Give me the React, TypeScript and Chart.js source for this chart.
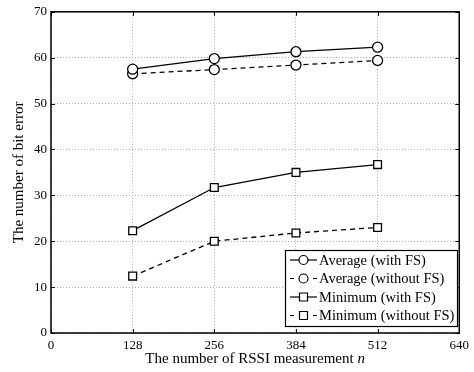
import React, { useEffect, useRef } from "react";
import { Chart, registerables } from "chart.js";

Chart.register(...registerables);

const xValues = [128, 256, 384, 512];
const avgWithFS = [57.5, 59.8, 61.3, 62.3];
const avgWithoutFS = [56.5, 57.4, 58.4, 59.4];
const minWithFS = [22.3, 31.7, 35.0, 36.7];
const minWithoutFS = [12.4, 20.0, 21.8, 23.0];
const xTicks = [0, 128, 256, 384, 512, 640];
const yTicks = [0, 10, 20, 30, 40, 50, 60, 70];
const seriesLabels = [
  "Average (with FS)",
  "Average (without FS)",
  "Minimum (with FS)",
  "Minimum (without FS)",
];

const FONT = "'Liberation Serif', 'DejaVu Serif', serif";

const toPts = (ys: number[]) => xValues.map((x, i) => ({ x, y: ys[i] }));

const decorPlugin = {
  id: "decor",
  afterDraw(chart: any) {
    const { ctx, chartArea: a, scales } = chart;
    const xs = scales.x;
    const ys = scales.y;
    ctx.save();
    // inward ticks
    ctx.strokeStyle = "#000";
    ctx.lineWidth = 1;
    ctx.beginPath();
    xTicks.forEach((t) => {
      const px = Math.round(xs.getPixelForValue(t)) + 0.5;
      ctx.moveTo(px, a.bottom);
      ctx.lineTo(px, a.bottom - 4);
      ctx.moveTo(px, a.top);
      ctx.lineTo(px, a.top + 4);
    });
    yTicks.forEach((t) => {
      const py = Math.round(ys.getPixelForValue(t)) + 0.5;
      ctx.moveTo(a.left, py);
      ctx.lineTo(a.left + 4, py);
      ctx.moveTo(a.right, py);
      ctx.lineTo(a.right - 4, py);
    });
    ctx.stroke();
    // box
    ctx.lineWidth = 1.5;
    ctx.strokeRect(a.left, a.top, a.right - a.left, a.bottom - a.top);

    // axis titles
    ctx.fillStyle = "#000";
    ctx.font = `15px ${FONT}`;
    ctx.textBaseline = "alphabetic";
    const t1 = "The number of RSSI measurement ";
    const w1 = ctx.measureText(t1).width;
    ctx.font = `italic 15px ${FONT}`;
    const w2 = ctx.measureText("n").width;
    const cx = (a.left + a.right) / 2;
    const sx = cx - (w1 + w2) / 2;
    ctx.font = `15px ${FONT}`;
    ctx.textAlign = "left";
    ctx.fillText(t1, sx, 363);
    ctx.font = `italic 15px ${FONT}`;
    ctx.fillText("n", sx + w1, 363);

    ctx.save();
    ctx.translate(23, (a.top + a.bottom) / 2);
    ctx.rotate(-Math.PI / 2);
    ctx.font = `15px ${FONT}`;
    ctx.textAlign = "center";
    ctx.fillText("The number of bit error", 0, 0);
    ctx.restore();

    // legend
    const lx = 285, ly = 250, lw = 172, lh = 76;
    ctx.fillStyle = "#fff";
    ctx.fillRect(lx, ly, lw, lh);
    ctx.lineWidth = 1.2;
    ctx.strokeStyle = "#000";
    ctx.strokeRect(lx + 0.5, ly + 0.5, lw, lh);
    const rows = [
      { dash: [], shape: "circle" },
      { dash: [4, 4], shape: "circle" },
      { dash: [], shape: "rect" },
      { dash: [4, 4], shape: "rect" },
    ];
    rows.forEach((r, i) => {
      const y = ly + 10 + i * 18.5;
      ctx.strokeStyle = "#000";
      ctx.lineWidth = 1.2;
      ctx.setLineDash([]);
      ctx.beginPath();
      if (r.dash.length) {
        ctx.moveTo(290, y); ctx.lineTo(294, y);
        ctx.moveTo(313, y); ctx.lineTo(317, y);
      } else {
        ctx.moveTo(290, y); ctx.lineTo(317, y);
      }
      ctx.stroke();
      ctx.fillStyle = "#fff";
      ctx.beginPath();
      if (r.shape === "circle") {
        ctx.arc(303.5, y, 4.5, 0, Math.PI * 2);
      } else {
        ctx.rect(299.5, y - 4, 8, 8);
      }
      ctx.fill();
      ctx.stroke();
      ctx.fillStyle = "#000";
      ctx.font = `14.5px ${FONT}`;
      ctx.textAlign = "left";
      ctx.textBaseline = "middle";
      ctx.fillText(seriesLabels[i], 319, y + 1);
    });
    ctx.restore();
  },
};

export default function App() {
  const ref = useRef<HTMLCanvasElement | null>(null);
  useEffect(() => {
    document.body.style.margin = "0";
    const mk = (label: string, data: number[], dash: number[], style: string) => ({
      label,
      data: toPts(data),
      borderColor: "#000",
      backgroundColor: "#fff",
      borderWidth: 1.3,
      borderDash: dash,
      pointStyle: style,
      pointRadius: style === "circle" ? 5 : 5.5,
      pointBorderWidth: 1.3,
      pointBackgroundColor: "#fff",
      pointBorderColor: "#000",
      tension: 0,
    });
    const chart = new Chart(ref.current!, {
      type: "line",
      data: {
        datasets: [
          mk(seriesLabels[0], avgWithFS, [], "circle"),
          mk(seriesLabels[1], avgWithoutFS, [5, 4], "circle"),
          mk(seriesLabels[2], minWithFS, [], "rect"),
          mk(seriesLabels[3], minWithoutFS, [5, 4], "rect"),
        ],
      },
      options: {
        animation: false,
        responsive: false,
        events: [],
        layout: { padding: { top: 10, right: 13, left: 0, bottom: 0 } },
        plugins: { legend: { display: false }, tooltip: { enabled: false } },
        scales: {
          x: {
            type: "linear",
            min: 0,
            max: 640,
            afterBuildTicks: (s: any) => {
              s.ticks = xTicks.map((v) => ({ value: v }));
            },
            afterFit: (s: any) => {
              s.height = 39;
            },
            grid: {
              color: "#9a9a9a",
              lineWidth: 0.8,
              drawTicks: false,
            },
            border: { display: false, dash: [1, 2] },
            ticks: {
              color: "#000",
              padding: 5,
              font: { family: FONT, size: 13 },
              maxRotation: 0,
              autoSkip: false,
            },
          },
          y: {
            type: "linear",
            min: 0,
            max: 70,
            afterBuildTicks: (s: any) => {
              s.ticks = yTicks.map((v) => ({ value: v }));
            },
            afterFit: (s: any) => {
              s.width = 51;
            },
            grid: {
              color: "#9a9a9a",
              lineWidth: 0.8,
              drawTicks: false,
            },
            border: { display: false, dash: [1, 2] },
            ticks: {
              color: "#000",
              padding: 4,
              font: { family: FONT, size: 13 },
              autoSkip: false,
            },
          },
        },
      },
      plugins: [decorPlugin],
    } as any);
    return () => chart.destroy();
  }, []);
  return (
    <canvas
      ref={ref}
      width={474}
      height={372}
      style={{ display: "block", width: 474, height: 372 }}
    />
  );
}
